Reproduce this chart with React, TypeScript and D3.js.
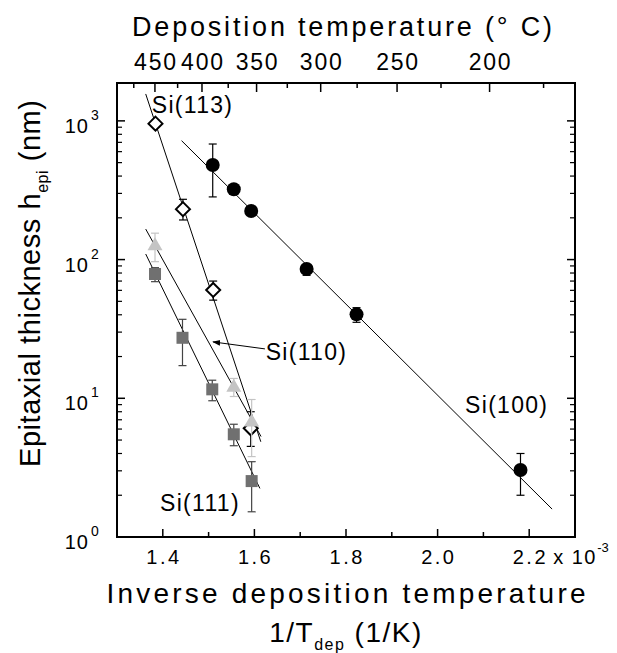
import React from "react";
import * as d3 from "d3";

// ---- data (x in 10^-3 1/K, y in nm) ----
const si100X = [1.509, 1.555, 1.593, 1.714, 1.823, 2.181];
const si100Y = [481, 321, 224, 85.5, 40.3, 3.04];
const si100Lo = [283, 310, 216, 77, 35.3, 2.0];
const si100Hi = [681, 332, 232, 92, 45, 4.0];

const si113X = [1.384, 1.444, 1.51, 1.592];
const si113Y = [955, 231, 60.4, 6.08];
const si113Lo = [905, 193, 51, 4.5];
const si113Hi = [1010, 272, 70, 8.0];

const si110X = [1.383, 1.555, 1.594];
const si110Y = [127, 12.1, 6.8];
const si110Lo = [96.6, 10.3, 3.8];
const si110Hi = [155, 13.9, 9.8];

const si111X = [1.383, 1.443, 1.508, 1.555, 1.594];
const si111Y = [78.7, 27.3, 11.6, 5.5, 2.53];
const si111Lo = [69.3, 17.2, 9.6, 4.55, 1.52];
const si111Hi = [87.4, 37.1, 13.5, 6.5, 3.49];

// fitted lines: [x, y] end points
const fit100 = [[1.441, 720], [2.25, 1.59]];
const fit113 = [[1.3627, 1563], [1.614, 4.86]];
const fit110 = [[1.3627, 166], [1.6145, 5.3]];
const fit111 = [[1.3627, 109.7], [1.612, 2.24]];

const xMajorTicks = [1.4, 1.6, 1.8, 2.0, 2.2];
const xMinorTicks = [1.5, 1.7, 1.9, 2.1];
const xTickLabels = ["1.4", "1.6", "1.8", "2.0", "2.2"];
const tMajor = [450, 400, 350, 300, 250, 200];
const tMinor = [475, 425, 375, 325, 275, 225, 175];
const yDecades = [1, 10, 100, 1000];
const yExp = ["0", "1", "2", "3"];

const seriesLabels = [
  { text: "Si(113)", x: 1.376, y: 1140 },
  { text: "Si(110)", x: 1.6247, y: 18.9 },
  { text: "Si(111)", x: 1.394, y: 1.54 },
  { text: "Si(100)", x: 2.06, y: 7.83 },
];
const arrow110 = [[1.623, 22.7], [1.5096, 25.5]];

const FONT = "'Liberation Sans', Arial, sans-serif";

export default function App() {
  const L = 117, R = 575, T = 83, B = 537;
  const x = d3.scaleLinear().domain([1.3, 2.3]).range([L, R]);
  const y = d3.scaleLog().domain([1, 1875]).range([B, T]);
  const tx = (c: number) => x(1000 / (c + 273.15));

  const minorY: number[] = [];
  for (let d = 1; d <= 1000; d *= 10) {
    for (let k = 2; k <= 9; k++) {
      const v = d * k;
      if (v < 1875) minorY.push(v);
    }
  }

  const line = d3
    .line<number[]>()
    .x((d) => x(d[0]))
    .y((d) => y(d[1]));

  const errBars = (xs: number[], lo: number[], hi: number[], color: string, key: string) =>
    xs.map((xv, i) => {
      const cx = x(xv);
      return (
        <g key={key + i} stroke={color} strokeWidth={1.2}>
          <line x1={cx} x2={cx} y1={y(lo[i])} y2={y(hi[i])} />
          <line x1={cx - 4} x2={cx + 4} y1={y(lo[i])} y2={y(lo[i])} />
          <line x1={cx - 4} x2={cx + 4} y1={y(hi[i])} y2={y(hi[i])} />
        </g>
      );
    });

  return (
    <svg
      width={617}
      height={653}
      style={{ position: "absolute", left: 0, top: 0, background: "#fff" }}
      fontFamily={FONT}
    >
      <defs>
        <marker id="ah" viewBox="0 0 10 10" refX="9" refY="5" markerWidth="8" markerHeight="8" orient="auto">
          <path d="M0,1.5 L10,5 L0,8.5 z" fill="#000" />
        </marker>
      </defs>
      <rect x={0} y={0} width={617} height={653} fill="#fff" />

      {/* fit lines */}
      {[fit100, fit113, fit110, fit111].map((f, i) => (
        <path key={"fit" + i} d={line(f) || ""} stroke="#000" strokeWidth={1} fill="none" />
      ))}

      {/* arrow */}
      <line
        x1={x(arrow110[0][0])}
        y1={y(arrow110[0][1])}
        x2={x(arrow110[1][0])}
        y2={y(arrow110[1][1])}
        stroke="#000"
        strokeWidth={1}
        markerEnd="url(#ah)"
      />

      {/* Si(113) diamonds */}
      {errBars(si113X, si113Lo, si113Hi, "#000", "e113")}
      {si113X.map((xv, i) => {
        const cx = x(xv), cy = y(si113Y[i]);
        const r = 7;
        return (
          <path
            key={"d" + i}
            d={`M${cx},${cy - r}L${cx + r},${cy}L${cx},${cy + r}L${cx - r},${cy}Z`}
            fill="#fff"
            stroke="#000"
            strokeWidth={2}
          />
        );
      })}

      {/* Si(110) triangles */}
      {errBars(si110X, si110Lo, si110Hi, "#c4c4c4", "e110")}
      {si110X.map((xv, i) => {
        const cx = x(xv), cy = y(si110Y[i]);
        return (
          <path
            key={"t" + i}
            d={`M${cx},${cy - 8}L${cx + 7.5},${cy + 5}L${cx - 7.5},${cy + 5}Z`}
            fill="#c4c4c4"
          />
        );
      })}

      {/* Si(111) squares */}
      {errBars(si111X, si111Lo, si111Hi, "#444", "e111")}
      {si111X.map((xv, i) => {
        const cx = x(xv), cy = y(si111Y[i]);
        return <rect key={"s" + i} x={cx - 6} y={cy - 6} width={12} height={12} fill="#707070" />;
      })}

      {/* Si(100) circles */}
      {errBars(si100X, si100Lo, si100Hi, "#000", "e100")}
      {si100X.map((xv, i) => (
        <circle key={"c" + i} cx={x(xv)} cy={y(si100Y[i])} r={7} fill="#000" />
      ))}

      {/* frame */}
      <rect x={L} y={T} width={R - L} height={B - T} fill="none" stroke="#000" strokeWidth={2} />

      {/* bottom ticks */}
      {xMajorTicks.map((v) => (
        <line key={"xb" + v} x1={x(v)} x2={x(v)} y1={B} y2={B - 8} stroke="#000" strokeWidth={1.5} />
      ))}
      {xMinorTicks.map((v) => (
        <line key={"xm" + v} x1={x(v)} x2={x(v)} y1={B} y2={B - 5} stroke="#000" strokeWidth={1.5} />
      ))}
      {xMajorTicks.map((v, i) => (
        <text key={"xl" + v} x={x(v) + 1.2} y={564} textAnchor="middle" fontSize={20} letterSpacing={2.5}>
          {xTickLabels[i]}
        </text>
      ))}
      <text x={x(2.2) + 24} y={564} fontSize={20} letterSpacing={1.5}>
        x 10
      </text>
      <text x={x(2.2) + 68} y={552} fontSize={13}>
        -3
      </text>

      {/* top ticks */}
      {tMajor.map((c) => (
        <g key={"tt" + c}>
          <line x1={tx(c)} x2={tx(c)} y1={T} y2={T + 9} stroke="#000" strokeWidth={1.5} />
          <text x={tx(c) + 1} y={70} textAnchor="middle" fontSize={23} letterSpacing={1.8}>
            {c}
          </text>
        </g>
      ))}
      {tMinor.map((c) => (
        <line key={"tm" + c} x1={tx(c)} x2={tx(c)} y1={T} y2={T + 5} stroke="#000" strokeWidth={1.5} />
      ))}

      {/* y ticks */}
      {yDecades.map((v, i) => (
        <g key={"yd" + v}>
          <line x1={L} x2={L + 8} y1={y(v)} y2={y(v)} stroke="#000" strokeWidth={1.5} />
          <line x1={R} x2={R - 8} y1={y(v)} y2={y(v)} stroke="#000" strokeWidth={1.5} />
          <text x={89} y={y(v) + 12} textAnchor="end" fontSize={20} letterSpacing={1}>
            10
          </text>
          <text x={91} y={y(v) - 1} fontSize={14}>
            {yExp[i]}
          </text>
        </g>
      ))}
      {minorY.map((v) => (
        <g key={"ym" + v}>
          <line x1={L} x2={L + 5} y1={y(v)} y2={y(v)} stroke="#000" strokeWidth={1.2} />
          <line x1={R} x2={R - 5} y1={y(v)} y2={y(v)} stroke="#000" strokeWidth={1.2} />
        </g>
      ))}

      {/* series labels */}
      {seriesLabels.map((s) => (
        <text key={s.text} x={x(s.x)} y={y(s.y)} fontSize={23} letterSpacing={1.3}>
          {s.text}
        </text>
      ))}

      {/* titles */}
      <text x={342} y={36} textAnchor="middle" fontSize={27} textLength={420} lengthAdjust="spacing">
        Deposition temperature (° C)
      </text>
      <text x={346} y={603} textAnchor="middle" fontSize={28} textLength={479} lengthAdjust="spacing">
        Inverse deposition temperature
      </text>
      <text x={346} y={642} textAnchor="middle" fontSize={28} letterSpacing={1.5}>
        1/T
        <tspan fontSize={16} dy={8}>dep</tspan>
        <tspan dy={-8}> (1/K)</tspan>
      </text>
      <text
        transform="translate(40,283.5) rotate(-90)"
        textAnchor="middle"
        fontSize={29}
        textLength={367}
        lengthAdjust="spacing"
      >
        Epitaxial thickness h
        <tspan fontSize={16} dy={8}>epi</tspan>
        <tspan dy={-8}> (nm)</tspan>
      </text>
    </svg>
  );
}
